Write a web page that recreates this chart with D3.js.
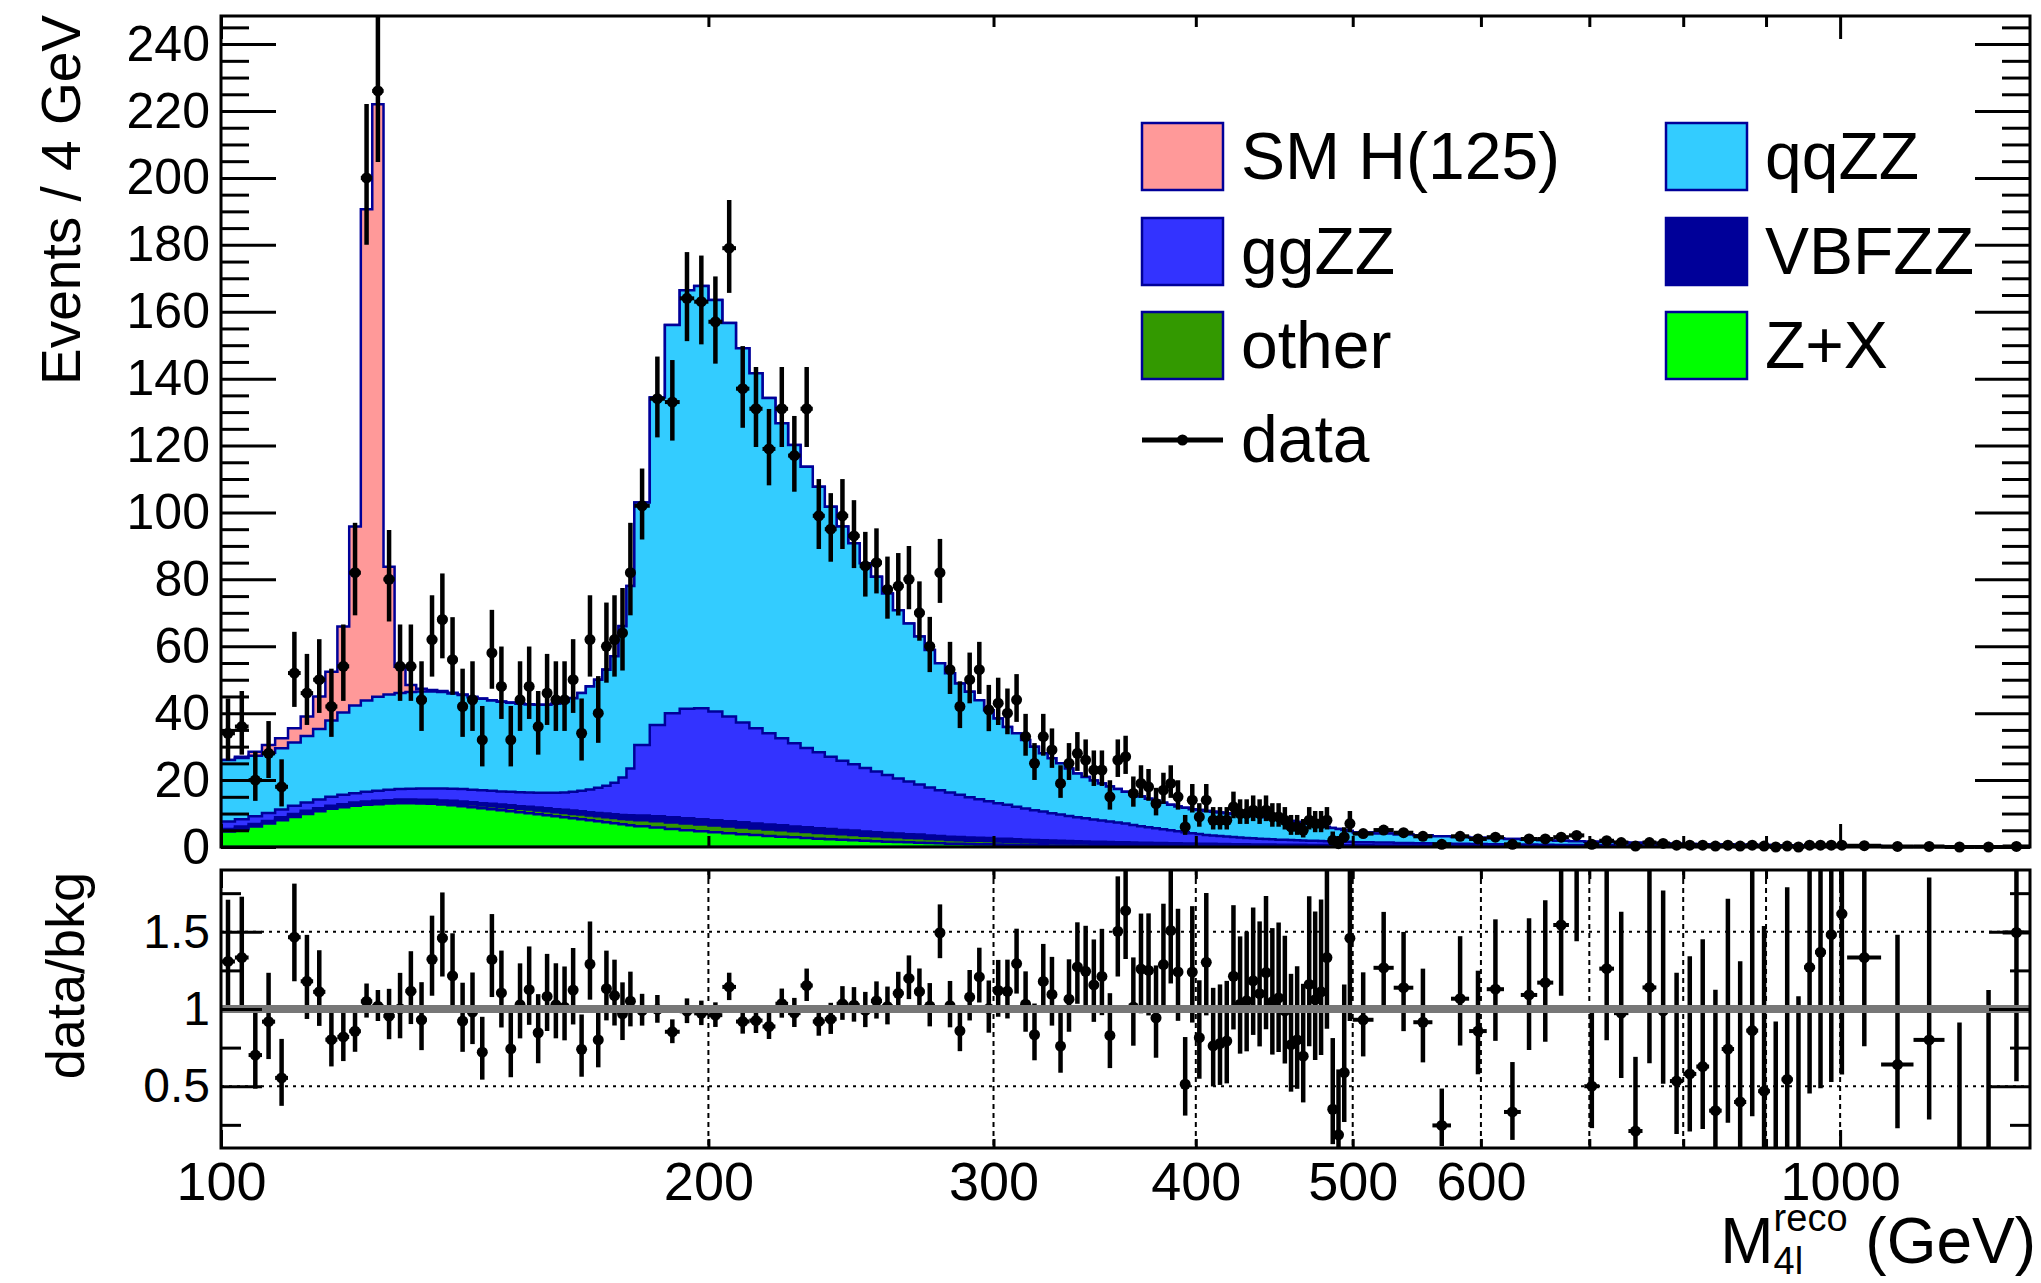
<!DOCTYPE html>
<html>
<head>
<meta charset="utf-8">
<title>M4l reco</title>
<script src="https://cdn.jsdelivr.net/npm/d3@7/dist/d3.min.js"></script>
<style>
	body { margin: 0; background: #fff; }
	svg { display: block; font-family: 'Liberation Sans', Arial, Helvetica, sans-serif; }
</style>
</head>
<body>
<svg id="fig" width="2041" height="1283"></svg>
<script>
// binning: [first edge, last edge, bin width] in GeV
const binSegments = [[100, 180, 2], [180, 500, 4], [500, 1010, 15], [1010, 1310, 50]]

// expected events / 4 GeV per bin (2 GeV | 4 GeV | 15 GeV | 50 GeV bins)
const zPlusX = [
	4.6,5.3,6.1,7.0,8.0,9.0,9.9,10.7,11.4,11.9, 12.3,12.6,12.8,13.0,13.1,13.1,13.0,12.9,12.7,12.5,
	12.2,11.9,11.6,11.3,11.0,10.7,10.4,10.1,9.8,9.5, 9.2,8.9,8.6,8.3,8.0,7.7,7.4,7.1,6.8,6.5,
	6.2,5.8,5.4,5.0,4.7,4.4,4.1,3.8,3.6,3.3, 3.1,2.9,2.7,2.5,2.3,2.2,2.0,1.9,1.7,1.6,
	1.5,1.4,1.3,1.2,1.1,1.0,0.95,0.9,0.85,0.8, 0.75,0.7,0.65,0.6,0.55,0.5,0.48,0.45,0.42,0.4,
	0.38,0.36,0.34,0.32,0.3,0.29,0.27,0.26,0.24,0.23, 0.22,0.21,0.2,0.19,0.18,0.17,0.16,0.15,0.14,0.13,
	0.12,0.12,0.11,0.1,0.1,0.09,0.09,0.08,0.08,0.07, 0.07,0.07,0.06,0.06,0.06,0.05,0.05,0.05,0.05,0.05,
	0.04,0.04,0.03,0.03,0.03,0.02,0.02,0.02,0.02,0.02, 0.01,0.01,0.01,0,0,0,0,0,0,0,
	0,0,0,0,0,0,0,0,0,0, 0,0,0,0,
	0,0,0,0,0,0
]
const otherBkg = [
	0.2,0.2,0.2,0.2,0.3,0.3,0.3,0.3,0.3,0.3, 0.4,0.4,0.4,0.4,0.5,0.5,0.5,0.6,0.6,0.7,
	0.7,0.8,0.8,0.9,0.9,1.0,1.0,1.1,1.1,1.2, 1.2,1.3,1.3,1.4,1.4,1.5,1.5,1.6,1.6,1.7,
	1.8,1.9,1.9,2.0,2.0,2.0,2.0,2.0,1.9,1.9, 1.9,1.8,1.8,1.7,1.7,1.6,1.6,1.5,1.5,1.4,
	1.4,1.3,1.3,1.2,1.2,1.1,1.1,1.0,1.0,1.0, 0.9,0.9,0.9,0.8,0.8,0.8,0.75,0.7,0.7,0.65,
	0.63,0.6,0.58,0.56,0.54,0.52,0.5,0.48,0.46,0.44, 0.42,0.41,0.4,0.38,0.37,0.36,0.35,0.34,0.33,0.32,
	0.31,0.3,0.29,0.28,0.27,0.26,0.25,0.25,0.24,0.23, 0.22,0.22,0.21,0.2,0.2,0.19,0.19,0.18,0.18,0.17,
	0.16,0.15,0.14,0.13,0.12,0.11,0.10,0.10,0.09,0.08, 0.08,0.07,0.07,0.06,0.06,0.06,0.05,0.05,0.05,0.04,
	0.04,0.04,0.04,0.03,0.03,0.03,0.03,0.03,0.02,0.02, 0.02,0.02,0.02,0.02,
	0.02,0.015,0.01,0.01,0.01,0.005
]
const vbfZZ = [
	0.6,0.6,0.6,0.6,0.6,0.6,0.6,0.6,0.6,0.6, 0.6,0.6,0.6,0.6,0.6,0.6,0.6,0.6,0.6,0.6,
	0.7,0.7,0.7,0.7,0.8,0.8,0.8,0.8,0.9,0.9, 0.9,0.9,1.0,1.0,1.0,1.0,1.1,1.1,1.2,1.3,
	1.4,1.5,1.6,1.6,1.6,1.6,1.6,1.6,1.55,1.5, 1.5,1.45,1.4,1.4,1.35,1.3,1.3,1.25,1.2,1.2,
	1.15,1.1,1.1,1.05,1.0,1.0,0.97,0.94,0.91,0.88, 0.85,0.83,0.8,0.78,0.76,0.74,0.72,0.7,0.68,0.66,
	0.65,0.63,0.62,0.6,0.59,0.58,0.56,0.55,0.54,0.53, 0.52,0.51,0.5,0.49,0.48,0.47,0.46,0.45,0.44,0.43,
	0.42,0.42,0.41,0.4,0.39,0.39,0.38,0.37,0.37,0.36, 0.35,0.35,0.34,0.34,0.33,0.33,0.32,0.32,0.31,0.31,
	0.30,0.29,0.28,0.27,0.26,0.25,0.24,0.23,0.22,0.21, 0.21,0.20,0.19,0.18,0.18,0.17,0.16,0.16,0.15,0.15,
	0.14,0.14,0.13,0.13,0.12,0.12,0.11,0.11,0.11,0.10, 0.10,0.10,0.09,0.09,
	0.08,0.07,0.06,0.05,0.045,0.04
]
const ggZZ = [
	2.2,2.2,2.3,2.4,2.3,2.4,2.5,2.6,2.7,2.8, 2.8,2.9,3.0,3.1,3.1,3.2,3.4,3.4,3.6,3.6,
	3.7,3.7,3.9,3.9,3.9,4.0,4.2,4.3,4.4,4.6, 4.9,5.2,5.6,6.1,6.8,7.5,8.3,9.4,11.2,14.0,
	21.1,27.3,31.1,32.7,33.2,32.5,31.3,29.8,28.45,27.3, 26.0,24.85,23.7,22.7,21.65,20.7,19.8,18.95,18.2,17.3,
	16.45,15.8,15.0,14.35,13.7,13.2,12.58,12.06,11.54,11.02, 10.6,10.17,9.65,9.32,8.89,8.56,8.15,7.85,7.5,7.19,
	6.94,6.61,6.36,6.12,5.87,5.61,5.27,4.91,4.66,4.4, 4.14,3.87,3.6,3.34,3.07,2.85,2.63,2.51,2.39,2.27,
	2.15,2.01,1.89,1.82,1.74,1.66,1.58,1.5,1.46,1.44, 1.36,1.31,1.29,1.25,1.21,1.18,1.14,1.1,1.06,1.02,
	0.95,0.86,0.78,0.71,0.65,0.59,0.54,0.49,0.45,0.41, 0.37,0.34,0.31,0.28,0.26,0.24,0.22,0.20,0.18,0.17,
	0.15,0.14,0.13,0.12,0.11,0.10,0.09,0.08,0.08,0.07, 0.07,0.06,0.06,0.05,
	0.05,0.04,0.03,0.025,0.02,0.015
]
const qqZZ = [
	18.4,18.3,18.1,18.0,18.3,18.9,19.9,21.1,22.8,24.6, 26.2,27.3,28.1,28.5,28.7,28.9,29.0,29.0,28.8,28.5,
	28.1,27.7,27.3,27.0,26.8,26.6,26.4,26.3,26.3,26.3, 26.6,27.2,28.0,29.2,30.8,32.3,34.7,37.8,45.2,54.5,
	72.5,97.9,116,125.1,126.2,123,117.6,111.9,106.1,100.2, 94.2,89.2,84.1,79.4,74.7,70,66.1,61.2,58.2,54.3,
	50.3,47.2,44.2,41.1,37.9,35.6,33.3,31.5,29.6,27.2, 25.3,23.3,22.0,20.5,19.0,17.4,16.4,15.3,14.2,13.1,
	12.3,11.7,11.1,10.5,10.0,9.5,9.2,8.9,8.5,8.2, 7.9,7.6,7.4,7.3,7.2,7.2,7.15,7.05,7.0,6.95,
	6.9,6.85,6.8,6.7,6.6,6.5,6.3,6.2,5.95,5.7, 5.5,5.25,5.0,4.75,4.5,4.25,4.0,3.75,3.5,3.25,
	2.85,2.66,2.52,2.36,2.19,2.03,1.90,1.76,1.62,1.48, 1.38,1.28,1.17,1.08,0.98,0.90,0.84,0.76,0.70,0.64,
	0.59,0.53,0.48,0.44,0.41,0.37,0.34,0.31,0.28,0.26, 0.23,0.21,0.19,0.17,
	0.15,0.125,0.10,0.075,0.055,0.047
]
// SM Higgs only matters in the 2 GeV bins (100-180 GeV); zero above
const smH = [
	0,0.4,1.2,2.3,3.0,4.3,5.8,9.7,14.6,25.7, 53.5,146.8,177.1,38.2,7.9,2.1,0.8,0.4,0.3,0.2,
	0.15,0.1,0.1,0.1,0.08,0.06,0.05,0.05,0.04,0.04, 0.03,0.03,0.03,0.03,0.03,0.03,0.03,0.03,0.03,0.03
]
// observed events per bin (raw counts)
const dataCounts = [
	17,18,10,14,9,26,23,25,21,27, 41,100,113,40,27,27,22,31,34,28,
	21,22,16,29,24,16,22,24,18,23, 22,22,25,17,31,20,30,31,32,41,
	102,134,133,164,163,157,179,137,131,119, 131,117,131,99,95,99,93,84,85,77,
	78,80,70,60,82,53,42,50,53,41, 43,40,44,33,25,33,29,19,25,28,
	26,23,23,15,26,27,16,19,18,13, 17,19,15,6,14,9,14,8,8,8,
	12,10,10,11,10,11,9,9,8,6, 6,5,8,7,7,8,2,1,3,7,
	15,19,16,12,3,12,9,11,3,9, 9,11,13,3,7,5,1,5,4,2,
	2,2,1,2,1,2,1,0,1,0, 2,2,2,2,
	5,2,2,0,0,2
]

const xTicks = [100, 200, 300, 400, 500, 600, 700, 800, 900, 1000]
const xTickLabels = [100, 200, 300, 400, 500, 600, 1000]

const NAVY = '#000099'
const FONT = "'Liberation Sans', Arial, Helvetica, sans-serif"

// stack order, bottom first
const comps = [
	{ name: 'Z+X', vals: zPlusX, fill: '#00ff00' },
	{ name: 'other', vals: otherBkg, fill: '#339900' },
	{ name: 'VBFZZ', vals: vbfZZ, fill: '#000099' },
	{ name: 'ggZZ', vals: ggZZ, fill: '#3333ff' },
	{ name: 'qqZZ', vals: qqZZ, fill: '#33ccff' },
	{ name: 'SM H(125)', vals: smH, fill: '#ff9999' },
]

const bins = []
binSegments.forEach(([a, b, w]) => {
	for (let lo = a; lo < b - 1e-6; lo += w) bins.push({ lo, hi: lo + w, w })
})

const svg = d3.select('#fig')
const X0 = 221, X1 = 2030
const x = d3.scaleLog().domain([100, 1310]).range([X0, X1])
const yT = d3.scaleLinear().domain([0, 248.4]).range([847, 16])
const yR = d3.scaleLinear().domain([0.1, 1.9]).range([1148, 870])

const defs = svg.append('defs')
defs.append('clipPath').attr('id', 'clipTop').append('rect')
	.attr('x', X0).attr('y', 16).attr('width', X1 - X0).attr('height', 847 - 16)
defs.append('clipPath').attr('id', 'clipTopData').append('rect')
	.attr('x', X0 - 10).attr('y', 16).attr('width', X1 - X0 + 20).attr('height', 860 - 16)
defs.append('clipPath').attr('id', 'clipBot').append('rect')
	.attr('x', X0).attr('y', 870).attr('width', X1 - X0).attr('height', 1148 - 870)

// cumulative stack
const cum = []
let run = bins.map(_ => 0)
comps.forEach(c => {
	run = run.map((s, i) => s + (c.vals[i] ?? 0))
	cum.push(run)
})
const total = cum[cum.length - 1]

const stepPts = arr => [...bins.map((b, i) => [b.lo, arr[i]]), [bins[bins.length - 1].hi, arr[arr.length - 1]]]
const area = d3.area().curve(d3.curveStepAfter)
	.x(d => x(d[0])).y0(yT(0)).y1(d => yT(d[1]))

const gStack = svg.append('g').attr('clip-path', 'url(#clipTop)')
for (let k = comps.length - 1; k >= 0; k--) {
	gStack.append('path')
		.attr('d', area(stepPts(cum[k])))
		.attr('fill', comps[k].fill)
		.attr('stroke', NAVY)
		.attr('stroke-width', 2.5)
}

// poisson (garwood-ish, wilson-hilferty) intervals
const poisLo = n => n <= 0 ? 0 : n - n * Math.pow(1 - 1 / (9 * n) - 1 / (3 * Math.sqrt(n)), 3)
const poisHi = n => (n + 1) * Math.pow(1 - 1 / (9 * (n + 1)) + 1 / (3 * Math.sqrt(n + 1)), 3) - n

const pts = bins.map((b, i) => {
	const n = dataCounts[i], s = 4 / b.w
	return { lo: b.lo, hi: b.hi, c: (b.lo + b.hi) / 2, v: n * s, eLo: poisLo(n) * s, eHi: poisHi(n) * s, T: total[i] }
})

function drawPoints(g, data, y, val, lo, hi) {
	g.selectAll('line.ey').data(data).join('line').attr('class', 'ey')
		.attr('x1', d => x(d.c)).attr('x2', d => x(d.c))
		.attr('y1', d => y(val(d) - lo(d))).attr('y2', d => y(val(d) + hi(d)))
		.attr('stroke', '#000').attr('stroke-width', 4.5)
	g.selectAll('line.ex').data(data).join('line').attr('class', 'ex')
		.attr('x1', d => x(d.lo)).attr('x2', d => x(d.hi))
		.attr('y1', d => y(val(d))).attr('y2', d => y(val(d)))
		.attr('stroke', '#000').attr('stroke-width', 4)
	g.selectAll('circle').data(data).join('circle')
		.attr('cx', d => x(d.c)).attr('cy', d => y(val(d))).attr('r', 5.5)
		.attr('fill', '#000')
}

drawPoints(svg.append('g').attr('clip-path', 'url(#clipTopData)'), pts, yT, d => d.v, d => d.eLo, d => d.eHi)

// ratio panel: grid first
const gGrid = svg.append('g').attr('stroke', '#000').attr('stroke-width', 2)
gGrid.selectAll('line.gx').data(xTicks.filter(t => t > 100)).join('line')
	.attr('x1', d => x(d)).attr('x2', d => x(d)).attr('y1', 870).attr('y2', 1148)
	.attr('stroke-dasharray', '5,4')
gGrid.selectAll('line.gy').data([0.5, 1.5]).join('line')
	.attr('x1', X0).attr('x2', X1).attr('y1', d => yR(d)).attr('y2', d => yR(d))
	.attr('stroke-dasharray', '3,5')

drawPoints(svg.append('g').attr('clip-path', 'url(#clipBot)'), pts, yR,
	d => d.v / d.T, d => d.eLo / d.T, d => d.eHi / d.T)

svg.append('line').attr('x1', X0).attr('x2', X1).attr('y1', yR(1)).attr('y2', yR(1))
	.attr('stroke', '#777').attr('stroke-width', 8)

// frames
svg.append('rect').attr('x', X0).attr('y', 16).attr('width', X1 - X0).attr('height', 847 - 16)
	.attr('fill', 'none').attr('stroke', '#000').attr('stroke-width', 3)
svg.append('rect').attr('x', X0).attr('y', 870).attr('width', X1 - X0).attr('height', 1148 - 870)
	.attr('fill', 'none').attr('stroke', '#000').attr('stroke-width', 3)

// axes
const styleAxis = (g, fs) => {
	g.select('.domain').remove()
	g.attr('font-size', fs).attr('font-family', FONT)
	g.selectAll('line').attr('stroke', '#000').attr('stroke-width', 3)
	g.selectAll('text').attr('fill', '#000')
}
const axisAt = (axis, tx, ty, fs = 10) =>
	svg.append('g').attr('transform', `translate(${tx},${ty})`).call(axis).call(g => styleAxis(g, fs))

const majY = d3.range(0, 241, 20)
const minY = d3.range(0, 248, 5).filter(v => v % 20 !== 0)
axisAt(d3.axisLeft(yT).tickValues(majY).tickSize(-55).tickPadding(11).tickFormat(d3.format('d')), X0, 0, 50)
axisAt(d3.axisLeft(yT).tickValues(minY).tickSize(-28).tickFormat(''), X0, 0)
axisAt(d3.axisRight(yT).tickValues(majY).tickSize(-55).tickFormat(''), X1, 0)
axisAt(d3.axisRight(yT).tickValues(minY).tickSize(-28).tickFormat(''), X1, 0)

const majX = [100, 1000], minX = xTicks.filter(t => t !== 100 && t !== 1000)
axisAt(d3.axisBottom(x).tickValues(majX).tickSize(-23).tickFormat(''), 0, 847)
axisAt(d3.axisBottom(x).tickValues(minX).tickSize(-11).tickFormat(''), 0, 847)
axisAt(d3.axisTop(x).tickValues(majX).tickSize(-23).tickFormat(''), 0, 16)
axisAt(d3.axisTop(x).tickValues(minX).tickSize(-11).tickFormat(''), 0, 16)

axisAt(d3.axisLeft(yR).tickValues([0.5, 1, 1.5]).tickSize(-41).tickPadding(11).tickFormat(d3.format('')), X0, 0, 48)
axisAt(d3.axisLeft(yR).tickValues([0.25, 0.75, 1.25, 1.75]).tickSize(-20).tickFormat(''), X0, 0)
axisAt(d3.axisRight(yR).tickValues([0.5, 1, 1.5]).tickSize(-41).tickFormat(''), X1, 0)
axisAt(d3.axisRight(yR).tickValues([0.25, 0.75, 1.25, 1.75]).tickSize(-20).tickFormat(''), X1, 0)

axisAt(d3.axisBottom(x).tickValues(majX).tickSize(-18).tickFormat(''), 0, 1148)
axisAt(d3.axisBottom(x).tickValues(minX).tickSize(-9).tickFormat(''), 0, 1148)
axisAt(d3.axisTop(x).tickValues(majX).tickSize(-18).tickFormat(''), 0, 870)
axisAt(d3.axisTop(x).tickValues(minX).tickSize(-9).tickFormat(''), 0, 870)
axisAt(d3.axisBottom(x).tickValues(xTickLabels).tickSize(0).tickPadding(14).tickFormat(d3.format('d')), 0, 1148, 54)

// axis titles
svg.append('text').attr('transform', 'rotate(-90)').attr('x', -15).attr('y', 80)
	.attr('text-anchor', 'end').attr('font-size', 55).text('Events / 4 GeV')
svg.append('text').attr('transform', 'rotate(-90)').attr('x', -872).attr('y', 84)
	.attr('text-anchor', 'end').attr('font-size', 54).text('data/bkg')

// M^{reco}_{4l} (GeV) as one text element, sup and sub stacked at the same x
const tTitle = svg.append('text').attr('y', 1263).attr('xml:space', 'preserve')
const sM = tTitle.append('tspan').attr('font-size', 64).text('M')
const sSup = tTitle.append('tspan').attr('font-size', 38).attr('y', 1231).text('reco')
const sSub = tTitle.append('tspan').attr('font-size', 38).attr('y', 1274).text('4l')
const sG = tTitle.append('tspan').attr('font-size', 64).attr('y', 1263).text(' (GeV)')
const wM = sM.node().getComputedTextLength()
const wS = Math.max(sSup.node().getComputedTextLength(), sSub.node().getComputedTextLength())
const wG = sG.node().getComputedTextLength()
const tx0 = 2036 - (wM + wS + wG)
sM.attr('x', tx0)
sSup.attr('x', tx0 + wM)
sSub.attr('x', tx0 + wM)
sG.attr('x', tx0 + wM + wS)

// legend
const legendCols = [1142, 1666]
const legendRows = [156.5, 251.5, 345.5, 440]
const legendItems = [
	['SM H(125)', 0, 0], ['qqZZ', 1, 0], ['ggZZ', 0, 1], ['VBFZZ', 1, 1], ['other', 0, 2], ['Z+X', 1, 2]
]
const gL = svg.append('g')
legendItems.forEach(([name, c, r]) => {
	const comp = comps.find(d => d.name === name)
	gL.append('rect').attr('x', legendCols[c]).attr('y', legendRows[r] - 33.5)
		.attr('width', 81).attr('height', 67).attr('fill', comp.fill)
		.attr('stroke', NAVY).attr('stroke-width', 2.5)
	gL.append('text').attr('x', legendCols[c] + 99).attr('y', legendRows[r] + 22)
		.attr('font-size', 66).text(name)
})
gL.append('line').attr('x1', legendCols[0]).attr('x2', legendCols[0] + 81)
	.attr('y1', legendRows[3]).attr('y2', legendRows[3]).attr('stroke', '#000').attr('stroke-width', 5)
gL.append('circle').attr('cx', legendCols[0] + 40.5).attr('cy', legendRows[3]).attr('r', 5.5).attr('fill', '#000')
gL.append('text').attr('x', legendCols[0] + 99).attr('y', legendRows[3] + 22).attr('font-size', 66).text('data')
</script>
</body>
</html>
